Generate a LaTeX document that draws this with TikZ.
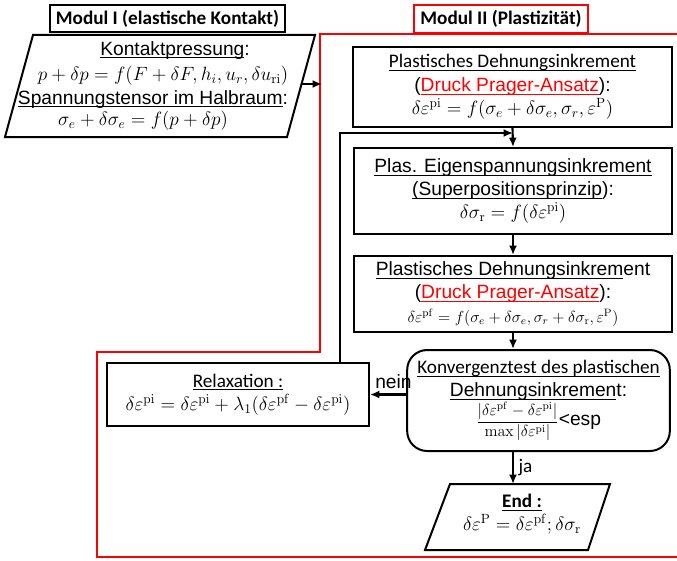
\documentclass[tikz,border=0pt]{standalone}
\usepackage{amsmath}
\usepackage[no-math]{fontspec}
\setmainfont{Liberation Sans}
\newfontfamily\carlito{Carlito}
\usetikzlibrary{positioning, arrows.meta}

\tikzset{
    blk/.style={draw, line width=1.5pt, align=center, inner sep=2pt},
    arr/.style={-{Latex[length=7pt,width=6pt]}, line width=1.6pt},
    redframe/.style={draw=red, line width=1.6pt},
    lab/.style={font=\carlito\bfseries\fontsize{14.4}{16}\selectfont},
}
\newcommand{\undl}[1]{\underline{\smash[b]{#1}}}
\newcommand{\drp}{\textcolor{red}{\undl{Druck Prager-Ansatz}}}
\newcommand{\deps}[1]{\delta\varepsilon^{\mathrm{#1}}}

\begin{document}
\begin{tikzpicture}[x=0.75pt, y=-0.75pt, every node/.style={font=\fontsize{14.4}{17.5}\selectfont}]
    \useasboundingbox (0,0) rectangle (677,560);

    % Modul I
    \node[blk, lab, minimum width=176pt, minimum height=20pt] (labI) at (167.5,18.5) {Modul I (elastische Kontakt)};
    \draw[line width=1.5pt] (33,35) -- (315,35) -- (287,137) -- (5,137) -- cycle;
    \node (k1) at (175,50) {\undl{Kontaktpressung}:};
    \node (k2) at (163,76) {$p+\delta p=f(F+\delta F,h_i,u_r,\delta u_{\mathrm{ri}})$};
    \node (k3) at (153,99) {\undl{Spannungstensor im Halbraum}:};
    \node (k4) at (143,121) {$\sigma_e+\delta\sigma_e=f(p+\delta p)$};
    \coordinate (pr) at (301,84);

    % Modul II
    \draw[redframe] (677,34) -- (320,34) -- (320,352) -- (97,352) -- (97,557) -- (677,557);
    \node[blk, lab, draw=red, minimum width=130.5pt, minimum height=21pt] (labII) at (501,19) {Modul II (Plastizität)};
    \coordinate (m2) at (322,84);
    \draw[arr] (pr) -- (m2);

    \node[blk, minimum width=239pt, minimum height=60pt] (plast1) at (512.5,87)
        {{\carlito\undl{Plastisches Dehnungsinkrement}}\\(\drp):\\$\deps{pi}=f(\sigma_e+\delta\sigma_e,\sigma_r,\varepsilon^{\mathrm{P}})$};
    \node[blk, minimum width=238.5pt, minimum height=64.5pt] (eigen) at (513,191)
        {\undl{Plas. Eigenspannungsinkrement}\\\undl{(Superpositionsprinzip}):\\$\delta\sigma_{\mathrm{r}}=f(\deps{pi})$};
    \node[blk, minimum width=238.5pt, minimum height=57pt] (plast2) at (513,294)
        {\undl{Plastisches Dehnungsinkrem}ent\\(\drp):\\{\fontsize{12}{14}\selectfont$\deps{pf}=f(\sigma_e+\delta\sigma_e,\sigma_r+\delta\sigma_{\mathrm{r}},\varepsilon^{\mathrm{P}})$}};
    \node[blk, rounded corners=15pt, minimum width=197pt, minimum height=75.75pt] (konv) at (538.5,400.5)
        {{\carlito\undl{Konvergenztest des plastischen}}\\\undl{Dehnungsinkremen}t:\\{\fontsize{12}{14}\selectfont$\dfrac{|\deps{pf}-\deps{pi}|}{\max|\deps{pi}|}$}<esp};
    \node[blk, minimum width=196.5pt, minimum height=47.25pt] (relax) at (238,394.5)
        {{\carlito\undl{Relaxation :}}\\$\deps{pi}=\deps{pi}+\lambda_1(\deps{pf}-\deps{pi})$};

    % End
    \draw[line width=1.5pt] (450,484) -- (610,484) -- (588,550) -- (425,550) -- cycle;
    \node[align=center] (ende) at (522,514) {{\carlito\bfseries\undl{End :}}\\$\delta\varepsilon^{\mathrm{P}}=\deps{pf};\delta\sigma_{\mathrm{r}}$};
    \coordinate (endtop) at (513,484);

    \draw[arr] (plast1.south) -- (eigen.north);
    \draw[arr] (eigen.south) -- (plast2.north);
    \draw[arr] (plast2.south) -- (plast2.south |- konv.north);
    \draw[arr] (konv.south -| endtop) -- (endtop) node[midway, right, font=\carlito\fontsize{14.4}{16}\selectfont] {ja};
    \draw[arr] (konv.west |- relax.east) -- (relax.east) node[midway, above, xshift=4pt] {nein};
    \coordinate (loop) at (340,133);
    \draw[arr] (relax.north -| loop) |- (eigen.north |- loop);
\end{tikzpicture}
\end{document}
